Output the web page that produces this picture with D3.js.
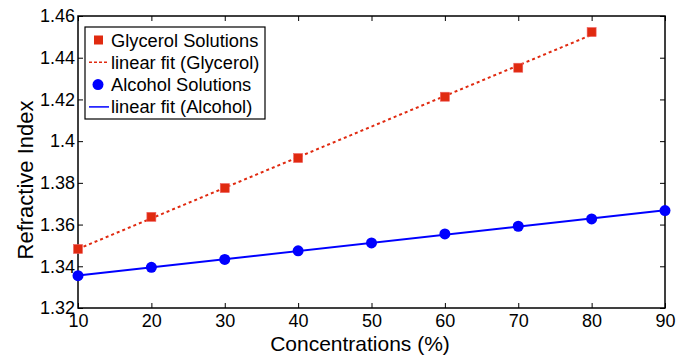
<!DOCTYPE html>
<html>
<head>
<meta charset="utf-8">
<script src="https://cdn.jsdelivr.net/npm/d3@7"></script>
<style>
  body { margin: 0; background: #fff; }
  svg { display: block; font-family: "Liberation Sans", Arial, sans-serif; }
</style>
</head>
<body>
<svg id="chart" width="689" height="356"></svg>
<script>
const glycerolConc = [10, 20, 30, 40, 60, 70, 80]
const glycerolRI = [1.3483, 1.3637, 1.3775, 1.3919, 1.4213, 1.4352, 1.4523]
const alcoholConc = [10, 20, 30, 40, 50, 60, 70, 80, 90]
const alcoholRI = [1.3355, 1.3395, 1.3433, 1.3474, 1.3512, 1.3555, 1.3592, 1.3627, 1.3667]
const xTicks = [10, 20, 30, 40, 50, 60, 70, 80, 90]
const yTicks = [1.32, 1.34, 1.36, 1.38, 1.4, 1.42, 1.44, 1.46]
const legendLabels = ['Glycerol Solutions', 'linear fit (Glycerol)', 'Alcohol Solutions', 'linear fit (Alcohol)']

const RED = '#e02a10'
const BLUE = '#0000ff'

const width = 689, height = 356
const margin = { top: 16, right: 24, bottom: 48, left: 78 }
const innerW = width - margin.left - margin.right
const innerH = height - margin.top - margin.bottom

const svg = d3.select('#chart')
const root = svg.append('g').attr('transform', `translate(${margin.left},${margin.top})`)

const x = d3.scaleLinear().domain([10, 90]).range([0, innerW])
const y = d3.scaleLinear().domain([1.32, 1.46]).range([innerH, 0])

// least squares line through a series
function fit(xs, ys) {
  const mx = d3.mean(xs), my = d3.mean(ys)
  const num = d3.sum(xs, (v, i) => (v - mx) * (ys[i] - my))
  const den = d3.sum(xs, v => (v - mx) * (v - mx))
  const b = num / den
  return v => my + b * (v - mx)
}

const fmtY = d => String(+d.toFixed(2))

const styleAxis = g => {
  g.select('.domain').remove()
  g.selectAll('line').attr('stroke', '#000').attr('stroke-width', 1)
  g.selectAll('text').attr('fill', '#000').attr('font-size', '18px')
}

// ticks point inward, mirrored on top/right
root.append('g')
  .attr('transform', `translate(0,${innerH})`)
  .call(d3.axisBottom(x).tickValues(xTicks).tickSize(-5).tickPadding(6))
  .call(styleAxis)
root.append('g')
  .call(d3.axisTop(x).tickValues(xTicks).tickSize(-5).tickFormat(''))
  .call(styleAxis)
root.append('g')
  .call(d3.axisLeft(y).tickValues(yTicks).tickSize(-5).tickPadding(3).tickFormat(fmtY))
  .call(styleAxis)
root.append('g')
  .attr('transform', `translate(${innerW},0)`)
  .call(d3.axisRight(y).tickValues(yTicks).tickSize(-5).tickFormat(''))
  .call(styleAxis)

root.append('rect')
  .attr('width', innerW).attr('height', innerH)
  .attr('fill', 'none').attr('stroke', '#000').attr('stroke-width', 1.5)

svg.append('text')
  .attr('x', 360).attr('y', 351)
  .attr('text-anchor', 'middle').attr('font-size', '21px')
  .text('Concentrations (%)')

svg.append('text')
  .attr('transform', 'translate(33,180) rotate(-90)')
  .attr('text-anchor', 'middle').attr('font-size', '22px')
  .text('Refractive Index')

// fit lines
const gFit = fit(glycerolConc, glycerolRI)
const aFit = fit(alcoholConc, alcoholRI)
const gExt = d3.extent(glycerolConc)
const aExt = d3.extent(alcoholConc)

root.append('line')
  .attr('x1', x(gExt[0])).attr('y1', y(gFit(gExt[0])))
  .attr('x2', x(gExt[1])).attr('y2', y(gFit(gExt[1])))
  .attr('stroke', RED).attr('stroke-width', 2).attr('stroke-dasharray', '3,3')

root.append('line')
  .attr('x1', x(aExt[0])).attr('y1', y(aFit(aExt[0])))
  .attr('x2', x(aExt[1])).attr('y2', y(aFit(aExt[1])))
  .attr('stroke', BLUE).attr('stroke-width', 2)

// markers
glycerolConc.forEach((c, i) => {
  root.append('rect')
    .attr('x', x(c) - 4.5).attr('y', y(glycerolRI[i]) - 4.5)
    .attr('width', 9).attr('height', 9)
    .attr('fill', RED).attr('stroke', '#f06060').attr('stroke-width', 0.6)
})
alcoholConc.forEach((c, i) => {
  root.append('circle')
    .attr('cx', x(c)).attr('cy', y(alcoholRI[i]))
    .attr('r', 5.5).attr('fill', BLUE)
})

// legend
const lg = svg.append('g').attr('transform', 'translate(85,27)')
lg.append('rect').attr('width', 180).attr('height', 92)
  .attr('fill', '#fff').attr('stroke', '#000').attr('stroke-width', 1.2)
legendLabels.forEach((lab, i) => {
  const cy = 13 + i * 22.3
  if (i === 0) {
    lg.append('rect').attr('x', 9).attr('y', cy - 4.5).attr('width', 9).attr('height', 9).attr('fill', RED)
  } else if (i === 1) {
    lg.append('line').attr('x1', 4).attr('x2', 24).attr('y1', cy).attr('y2', cy)
      .attr('stroke', RED).attr('stroke-width', 1.5).attr('stroke-dasharray', '3,2')
  } else if (i === 2) {
    lg.append('circle').attr('cx', 13).attr('cy', cy).attr('r', 5.5).attr('fill', BLUE)
  } else {
    lg.append('line').attr('x1', 4).attr('x2', 24).attr('y1', cy).attr('y2', cy)
      .attr('stroke', BLUE).attr('stroke-width', 1.5)
  }
  lg.append('text').attr('x', 26).attr('y', cy + 6.5)
    .attr('font-size', '18.3px').attr('fill', '#000').text(lab)
})
</script>
</body>
</html>
